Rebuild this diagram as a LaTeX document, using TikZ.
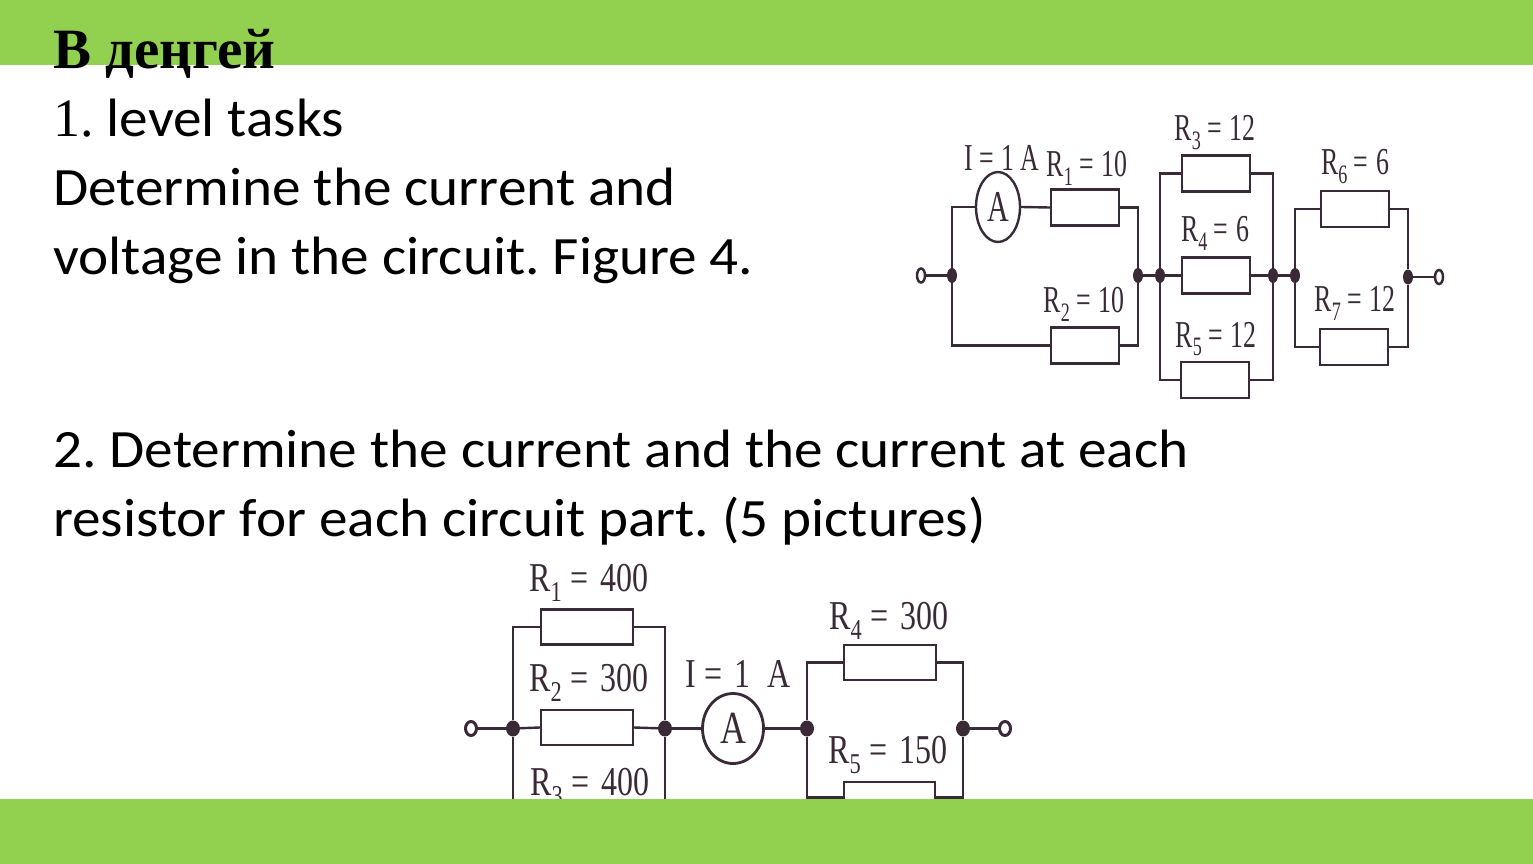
\documentclass[tikz,border=0pt]{standalone}
\usepackage{fontspec}
\usetikzlibrary{shapes.geometric}
\setmainfont[FakeStretch=1.06]{Carlito}
\newfontfamily\headfont{Liberation Serif}
\newfontfamily\labfont[FakeStretch=0.68]{Liberation Serif}
\newfontfamily\labfontB[FakeStretch=0.78]{Liberation Serif}
\definecolor{barcol}{HTML}{92D050}
\definecolor{wirecol}{HTML}{3A2A38}
\frenchspacing
\newcommand{\eqA}{\hspace{.16em}=\hspace{.2em}}
\newcommand{\eqB}{\hspace{.2em}=\hspace{.3em}}
\tikzset{
 txt/.style={anchor=base west,inner sep=0pt,font=\fontsize{54}{60}\selectfont},
 resA/.style={draw=wirecol,line width=2.4pt,fill=white,minimum width=68pt,minimum height=36pt,inner sep=0pt},
 resB/.style={draw=wirecol,line width=2.4pt,fill=white,minimum width=92pt,minimum height=35pt,inner sep=0pt},
 dotA/.style={ellipse,fill=wirecol,minimum width=10pt,minimum height=15pt,inner sep=0pt},
 dotB/.style={ellipse,fill=wirecol,minimum width=14pt,minimum height=16pt,inner sep=0pt},
 endA/.style={ellipse,draw=wirecol,line width=2.5pt,fill=white,minimum width=8pt,minimum height=14pt,inner sep=0pt},
 endB/.style={ellipse,draw=wirecol,line width=3pt,fill=white,minimum width=11pt,minimum height=14pt,inner sep=0pt},
 labA/.style={inner sep=0pt,text=wirecol,font=\labfont\fontsize{38}{38}\selectfont},
 labB/.style={inner sep=0pt,text=wirecol,font=\labfontB\fontsize{41}{41}\selectfont},
 wire/.style={draw=wirecol,line width=2.4pt},
}
\begin{document}
\begin{tikzpicture}[x=1pt,y=-1pt]
 \useasboundingbox (0,0) rectangle (1533,864);
 \fill[white] (0,0) rectangle (1533,864);
 \fill[barcol] (0,0) rectangle (1533,65);
 % first circuit
 \node[endA] (tA) at (921,275.5) {};
 \node[dotA] (jA) at (952,275.5) {};
 \node[dotA] (jB) at (1138,275.5) {};
 \node[dotA] (jC) at (1160,275.5) {};
 \node[dotA] (jD) at (1273,275.5) {};
 \node[dotA] (jE) at (1295,275.5) {};
 \node[dotA] (jF) at (1408,277) {};
 \node[endA] (tB) at (1439,277) {};
 \node[ellipse,draw=wirecol,line width=2.4pt,fill=white,minimum width=44pt,minimum height=70pt,inner sep=0pt,text=wirecol,font=\labfont\fontsize{44}{44}\selectfont] (amA) at (998,207) {A};
 \node[resA] (rA) at (1085,207.5) {};
 \node[resA] (rB) at (1085,345.5) {};
 \node[resA] (rC) at (1216,173.5) {};
 \node[resA] (rD) at (1216,275.5) {};
 \node[resA] (rE) at (1215,380) {};
 \node[resA] (rF) at (1355,209) {};
 \node[resA] (rG) at (1354,347) {};
 \draw[wire] (tA) -- (jA);
 \draw[wire] (jA) |- (amA.west);
 \draw[wire] (amA.east) -- (rA.west);
 \draw[wire] (rA.east) -| (jB);
 \draw[wire] (jA) |- (rB.west);
 \draw[wire] (rB.east) -| (jB);
 \draw[wire] (jB) -- (jC);
 \draw[wire] (jC) |- (rC.west);
 \draw[wire] (rC.east) -| (jD);
 \draw[wire] (jC) -- (rD.west);
 \draw[wire] (rD.east) -- (jD);
 \draw[wire] (jC) |- (rE.west);
 \draw[wire] (rE.east) -| (jD);
 \draw[wire] (jD) -- (jE);
 \draw[wire] (jE) |- (rF.west);
 \draw[wire] (rF.east) -| (jF);
 \draw[wire] (jE) |- (rG.west);
 \draw[wire] (rG.east) -| (jF);
 \draw[wire] (jF) -- (tB);
 \node[labA] (lI) at (1002,158) {I\eqA 1 A};
 \node[labA] (lA) at (1087,168) {R\textsubscript{1}\eqA 10};
 \node[labA] (lB) at (1084,304) {R\textsubscript{2}\eqA 10};
 \node[labA] (lC) at (1215,133) {R\textsubscript{3}\eqA 12};
 \node[labA] (lD) at (1215,233) {R\textsubscript{4}\eqA 6};
 \node[labA] (lE) at (1216,339) {R\textsubscript{5}\eqA 12};
 \node[labA] (lF) at (1355,167) {R\textsubscript{6}\eqA 6};
 \node[labA] (lG) at (1355,303) {R\textsubscript{7}\eqA 12};
 % second circuit
 \node[endB] (tC) at (471,728.5) {};
 \node[dotB] (jG) at (513,728.5) {};
 \node[dotB] (jH) at (665,728.5) {};
 \node[ellipse,draw=wirecol,line width=2.8pt,fill=white,minimum width=61pt,minimum height=70pt,inner sep=0pt,text=wirecol,font=\labfontB\fontsize{46}{46}\selectfont] (amB) at (733,728.5) {A};
 \node[dotB] (jI) at (807,728.5) {};
 \node[dotB] (jJ) at (963,728.5) {};
 \node[endB] (tD) at (1005,728.5) {};
 \node[resB] (rH) at (587,627) {};
 \node[resB] (rI) at (587,727.5) {};
 \node[resB] (rJ) at (890,662.5) {};
 \node[resB,minimum width=91pt,minimum height=31pt] (rK) at (889.5,797.5) {};
 \coordinate (bA) at (513,810);
 \coordinate (bB) at (665,810);
 \draw[wire] (tC) -- (jG);
 \draw[wire] (jG) |- (rH.west);
 \draw[wire] (rH.east) -| (jH);
 \draw[wire] (jG) -- (rI.west);
 \draw[wire] (rI.east) -- (jH);
 \draw[wire] (jG) -- (bA);
 \draw[wire] (jH) -- (bB);
 \draw[wire] (jH) -- (amB.west);
 \draw[wire] (amB.east) -- (jI);
 \draw[wire] (jI) |- (rJ.west);
 \draw[wire] (rJ.east) -| (jJ);
 \draw[wire] (jI) |- (rK.west);
 \draw[wire] (rK.east) -| (jJ);
 \draw[wire] (jJ) -- (tD);
 \node[labB] (lJ) at (738,674) {I\eqB 1\hspace{.2em} A};
 \node[labB] (lK) at (589,583) {R\textsubscript{1}\eqB 400};
 \node[labB] (lL) at (589,683) {R\textsubscript{2}\eqB 300};
 \node[labB] (lM) at (590,787) {R\textsubscript{3}\eqB 400};
 \node[labB] (lN) at (889,621) {R\textsubscript{4}\eqB 300};
 \node[labB] (lO) at (888,755) {R\textsubscript{5}\eqB 150};
 % bottom bar and texts
 \fill[barcol] (0,799) rectangle (1533,864);
 \node[txt,font=\headfont\bfseries\fontsize{57}{60}\selectfont] (title) at (53,69) {В деңгей};
 \node[txt] (lineA) at (53,136) {{\headfont 1.} level tasks};
 \node[txt] (lineB) at (53,205) {Determine the current and};
 \node[txt] (lineC) at (53,274) {voltage in the circuit. Figure 4.};
 \node[txt] (lineD) at (53,467) {2. Determine the current and the current at each};
 \node[txt] (lineE) at (53,536) {resistor for each circuit part. (5 pictures)};
\end{tikzpicture}
\end{document}
